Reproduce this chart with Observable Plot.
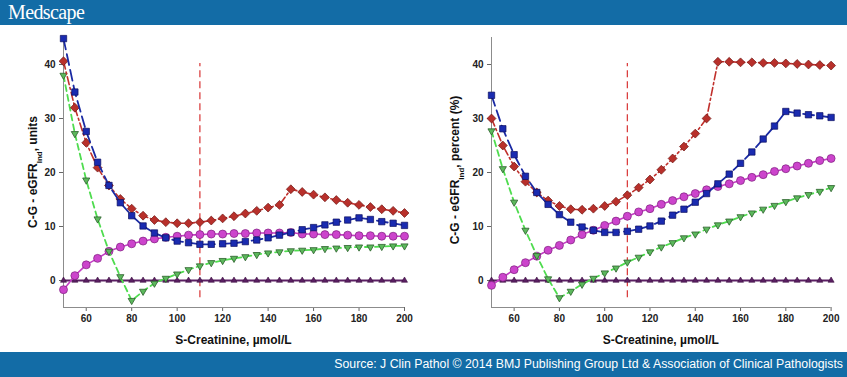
<!DOCTYPE html>
<html><head><meta charset="utf-8">
<script src="https://cdn.jsdelivr.net/npm/d3@7"></script>
<script src="https://cdn.jsdelivr.net/npm/@observablehq/plot@0.6"></script>
<style>
html,body{margin:0;padding:0;background:#fff}
body{width:847px;height:377px;overflow:hidden;position:relative;font-family:"Liberation Sans",Arial,sans-serif}
#hdr{position:absolute;left:0;top:0;width:847px;height:25px;background:#136ca6}
#hdr span{position:absolute;left:8px;top:1px;font-family:"Liberation Serif","DejaVu Serif",serif;color:#fff;font-size:20px;letter-spacing:-0.6px}
#ftr{position:absolute;left:0;top:352px;width:847px;height:25px;background:#136ca6}
#ftr span{position:absolute;right:4px;top:5px;color:#fff;font-size:12.3px;white-space:nowrap}
#left{position:absolute;left:0;top:25px}
#right{position:absolute;left:424px;top:25px}
</style>
</head><body>
<div id="hdr"><span>Medscape</span></div>
<div id="left"></div>
<div id="right"></div>
<div id="ftr"><span>Source: J Clin Pathol © 2014 BMJ Publishing Group Ltd &amp; Association of Clinical Pathologists</span></div>
<script>
// S-Creatinine (µmol/L)
const creat = [50,55,60,65,70,75,80,85,90,95,100,105,110,115,120,125,130,135,140,145,150,155,160,165,170,175,180,185,190,195,200];
const xTicks = [60,80,100,120,140,160,180,200];
const yTicks = [0,10,20,30,40];
const refCreat = [110];
const refRange = [-3.2, 40.2];
const xTitle = "S-Creatinine, µmol/L";

// Left panel: C-G - eGFR_Ind, units
const redL = [40.6,32.0,25.5,20.9,17.6,15.1,13.3,12.0,11.2,10.8,10.6,10.6,10.8,11.1,11.5,11.9,12.4,12.9,13.5,14.0,16.9,16.4,15.9,15.4,14.9,14.4,14.0,13.6,13.2,12.9,12.5];
const blueL = [44.8,34.9,27.6,21.9,17.6,14.4,12.0,10.1,8.8,7.9,7.3,7.0,6.7,6.7,6.8,6.9,7.2,7.5,7.9,8.4,8.9,9.4,9.8,10.3,10.8,11.2,11.6,11.3,10.9,10.6,10.2];
const magentaL = [-1.7,0.9,2.9,4.1,5.4,6.2,6.8,7.3,7.7,8.0,8.2,8.4,8.5,8.6,8.6,8.7,8.7,8.8,8.8,8.8,8.9,8.6,8.6,8.5,8.5,8.4,8.3,8.3,8.2,8.2,8.2];
const greenL = [38.0,27.2,18.6,11.4,5.4,0.7,-3.7,-2.0,-0.5,0.4,1.2,2.0,2.7,3.3,3.7,4.1,4.4,4.8,5.1,5.3,5.5,5.6,5.7,5.9,6.0,6.1,6.2,6.2,6.3,6.4,6.4];
const purpleL = [0,0,0,0,0,0,0,0,0,0,0,0,0,0,0,0,0,0,0,0,0,0,0,0,0,0,0,0,0,0,0];

// Right panel: C-G - eGFR_Ind, percent (%)
const redR = [30.0,25.0,21.1,18.3,16.3,14.8,13.8,13.2,13.1,13.3,13.8,14.6,15.8,17.2,18.7,20.5,22.6,24.8,27.2,30.0,40.5,40.5,40.4,40.4,40.3,40.3,40.2,40.1,40.0,39.9,39.8];
const blueR = [34.3,28.1,23.3,19.3,16.3,14.1,12.2,10.8,9.9,9.3,8.9,8.9,9.1,9.5,10.1,11.0,12.1,13.2,14.5,16.1,17.9,19.7,21.7,23.8,26.2,28.6,31.3,31.0,30.7,30.5,30.2];
const magentaR = [-0.9,0.6,2.0,3.3,4.5,5.6,6.5,7.5,8.5,9.3,10.2,11.0,11.9,12.7,13.3,14.1,14.8,15.5,16.1,16.8,17.4,17.9,18.5,19.1,19.6,20.2,20.7,21.2,21.7,22.2,22.6];
const greenR = [27.7,20.7,14.5,9.3,4.6,0.3,-3.2,-2.0,-0.7,0.4,1.4,2.3,3.4,4.3,5.3,6.2,7.0,7.9,8.6,9.5,10.3,11.0,11.8,12.5,13.2,13.9,14.6,15.3,15.9,16.5,17.2];
const purpleR = [0,0,0,0,0,0,0,0,0,0,0,0,0,0,0,0,0,0,0,0,0,0,0,0,0,0,0,0,0,0,0];

const triangleDown = {
  draw(ctx, size) {
    const s = Math.sqrt(size / (3 * Math.sqrt(3) / 4)) / 2; // half side
    const h = s * Math.sqrt(3);
    ctx.moveTo(-s, -h / 3);
    ctx.lineTo(s, -h / 3);
    ctx.lineTo(0, 2 * h / 3);
    ctx.closePath();
  }
};
const triangleUp = {
  draw(ctx, size) {
    const s = Math.sqrt(size / (3 * Math.sqrt(3) / 4)) / 2;
    const h = s * Math.sqrt(3);
    ctx.moveTo(-s, h / 3);
    ctx.lineTo(s, h / 3);
    ctx.lineTo(0, -2 * h / 3);
    ctx.closePath();
  }
};

function rows(vals) { return creat.map((c, i) => ({x: c, y: vals[i]})); }

function chart(el, s, marginLeft, marginRight, titleParts, titleX, titleY) {
  const ref = refCreat.map(c => ({x: c, y1: refRange[0], y2: refRange[1]}));
  const P = rows(s.purple), M = rows(s.magenta), G = rows(s.green), R = rows(s.red), B = rows(s.blue);
  const p = Plot.plot({
    width: 423, height: 327,
    marginLeft, marginRight, marginTop: 12, marginBottom: 45,
    style: {fontFamily: "'Liberation Sans', Arial, sans-serif", fontSize: "10px", fontWeight: "bold", color: "#222", background: "transparent", overflow: "visible"},
    x: {domain: [50, 200], ticks: xTicks, tickSize: 4, tickPadding: 3, label: null, tickFormat: d => String(d)},
    y: {domain: [-5, 45], ticks: yTicks, tickSize: 4, tickPadding: 4, label: null, tickFormat: d => String(d)},
    marks: [
      Plot.ruleX([50], {stroke: "#8c8c8c", strokeWidth: 1}),
      Plot.ruleY([-5], {stroke: "#8c8c8c", strokeWidth: 1}),
      Plot.ruleX(ref, {x: "x", y1: "y1", y2: "y2", stroke: "#d83434", strokeWidth: 1.2, strokeDasharray: "7,4"}),
      Plot.line(P, {x: "x", y: "y", stroke: "#5b1f63", strokeWidth: 2}),
      Plot.dot(P, {x: "x", y: "y", symbol: triangleUp, r: 3.9, fill: "#5b1f63", stroke: "#3a0f40", strokeWidth: 0.6}),
      Plot.line(M, {x: "x", y: "y", stroke: "#c43cc4", strokeWidth: 1.6}),
      Plot.dot(M, {x: "x", y: "y", symbol: "circle", r: 4, fill: "#cc44cc", stroke: "#7e1f7e", strokeWidth: 0.7}),
      Plot.line(G, {x: "x", y: "y", stroke: "#4fdc4f", strokeWidth: 1.8, strokeDasharray: "6,4"}),
      Plot.dot(G, {x: "x", y: "y", symbol: triangleDown, r: 4.6, fill: "#5cb85c", stroke: "#2b5f2b", strokeWidth: 0.8}),
      Plot.line(R, {x: "x", y: "y", stroke: "#c0302c", strokeWidth: 1.6, strokeDasharray: "8,3,2,3"}),
      Plot.dot(R, {x: "x", y: "y", symbol: "diamond2", r: 4, fill: "#b8302b", stroke: "#6e1512", strokeWidth: 0.7}),
      Plot.line(B, {x: "x", y: "y", stroke: "#1a2aa3", strokeWidth: 1.8, strokeDasharray: "11,5"}),
      Plot.dot(B, {x: "x", y: "y", symbol: "square", r: 3.6, fill: "#1a2bb0", stroke: "#0c0f60", strokeWidth: 0.7})
    ]
  });
  const svg = d3.select(p);
  svg.selectAll("[aria-label$='tick'] path, [aria-label$='tick'] line").attr("stroke", "#666");
  const t = svg.append("text")
    .attr("transform", `translate(${titleX},${titleY}) rotate(-90)`)
    .attr("text-anchor", "middle")
    .style("font", "bold 12px 'Liberation Sans', Arial, sans-serif")
    .attr("fill", "#111");
  t.append("tspan").text(titleParts[0]);
  t.append("tspan").attr("baseline-shift", "sub").style("font-size", "8px").text(titleParts[1]);
  t.append("tspan").text(titleParts[2]);
  const plotCenter = marginLeft + (423 - marginLeft - marginRight) / 2;
  svg.append("text")
    .attr("x", plotCenter).attr("y", 319)
    .attr("text-anchor", "middle")
    .style("font", "bold 12px 'Liberation Sans', Arial, sans-serif")
    .attr("fill", "#111")
    .text(xTitle);
  document.getElementById(el).appendChild(p);
}

chart("left", {red: redL, blue: blueL, magenta: magentaL, green: greenL, purple: purpleL}, 63, 19,
  ["C-G - eGFR", "Ind", ", units"], 37, 147);
chart("right", {red: redR, blue: blueR, magenta: magentaR, green: greenR, purple: purpleR}, 67, 16.4,
  ["C-G - eGFR", "Ind", ", percent (%)"], 35, 145);
</script>
</body></html>
